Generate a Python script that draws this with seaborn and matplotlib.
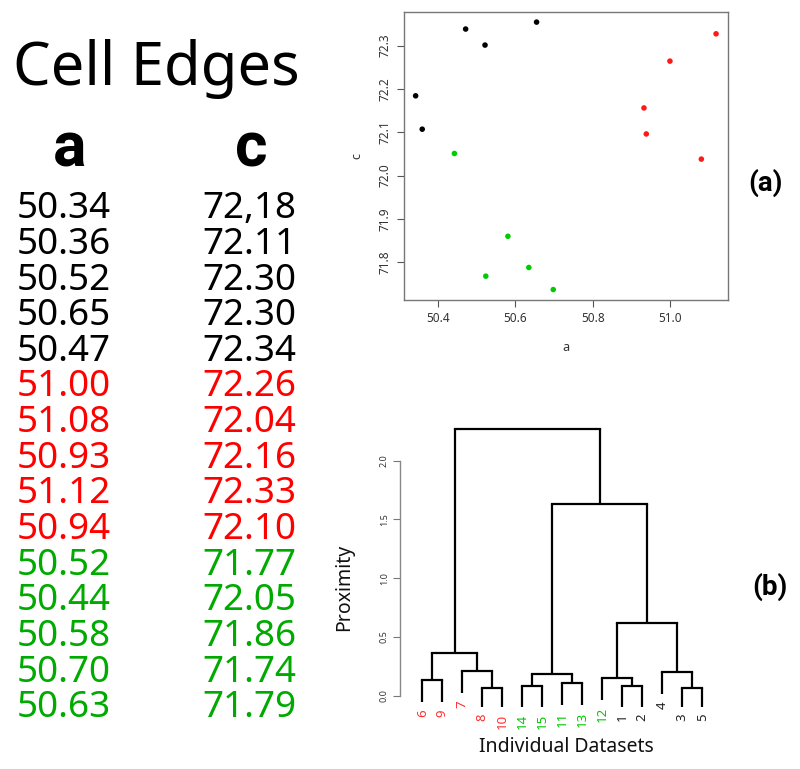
import matplotlib
matplotlib.use("Agg")
import matplotlib.pyplot as plt
import seaborn as sns
import pandas as pd

# ---------------- data ----------------
table_a = ["50.34", "50.36", "50.52", "50.65", "50.47",
           "51.00", "51.08", "50.93", "51.12", "50.94",
           "50.52", "50.44", "50.58", "50.70", "50.63"]
table_c = ["72,18", "72.11", "72.30", "72.30", "72.34",
           "72.26", "72.04", "72.16", "72.33", "72.10",
           "71.77", "72.05", "71.86", "71.74", "71.79"]
table_group = ["k"] * 5 + ["r"] * 5 + ["g"] * 5

scatter_a = [50.343, 50.360, 50.472, 50.522, 50.655,
             50.999, 50.932, 50.938, 51.080, 51.118,
             50.443, 50.581, 50.524, 50.635, 50.698]
scatter_c = [72.184, 72.107, 72.338, 72.301, 72.354,
             72.264, 72.156, 72.096, 72.038, 72.327,
             72.051, 71.860, 71.768, 71.788, 71.737]
scatter_group = ["k"] * 5 + ["r"] * 5 + ["g"] * 5

x_ticks = [50.4, 50.6, 50.8, 51.0]
y_ticks = [71.8, 71.9, 72.0, 72.1, 72.2, 72.3]

# dendrogram: leaf order and merges (left, right, height)
leaf_order = ["6", "9", "7", "8", "10", "14", "15", "11", "13", "12",
              "1", "2", "4", "3", "5"]
leaf_group = ["r", "r", "r", "r", "r", "g", "g", "g", "g", "g",
              "k", "k", "k", "k", "k"]
leaf_bottom = [-0.056, -0.056, 0.020, -0.094, -0.094, -0.094, -0.094,
               -0.079, -0.079, -0.037, -0.094, -0.094, 0.012, -0.094, -0.094]
merges = [
    ("6", "9", 0.133, "A"),
    ("8", "10", 0.062, "B"),
    ("7", "B", 0.207, "C"),
    ("A", "C", 0.363, "D"),
    ("14", "15", 0.082, "E"),
    ("11", "13", 0.108, "F"),
    ("E", "F", 0.182, "G"),
    ("1", "2", 0.082, "H"),
    ("12", "H", 0.153, "I"),
    ("3", "5", 0.065, "J"),
    ("4", "J", 0.199, "K"),
    ("I", "K", 0.620, "L"),
    ("G", "L", 1.630, "M"),
    ("D", "M", 2.270, "N"),
]
dendro_ticks = [0.0, 0.5, 1.0, 1.5, 2.0]

# ---------------- styling ----------------
sns.set_theme(style="white")
plt.rcParams["font.family"] = ["Noto Sans", "DejaVu Sans"]
plt.rcParams["text.color"] = "black"
BOLD = ["Roboto", "DejaVu Sans"]

table_colors = {"k": "#000000", "r": "#FF0000", "g": "#00AA00"}
point_colors = {"k": "#000000", "r": "#FF1A1A", "g": "#00CC00"}
label_colors = {"k": "#222222", "r": "#FF3030", "g": "#00C800"}

W, H = 800, 769
fig = plt.figure(figsize=(W / 100, H / 100), dpi=100)


def fx(x):
    return x / W


def fy(y):
    return 1 - y / H


# ---------------- left table ----------------
fig.text(fx(13), fy(85), "Cell Edges", fontsize=43, color="black",
         ha="left", va="baseline")
fig.text(fx(69.5), fy(166.7), "a", fontsize=45, fontweight="bold",
         family=BOLD, color="black", ha="center", va="baseline")
fig.text(fx(251.5), fy(166.7), "c", fontsize=45, fontweight="bold",
         family=BOLD, color="black", ha="center", va="baseline")
row0, step = 218.3, 35.64
for i, (av, cv, g) in enumerate(zip(table_a, table_c, table_group)):
    yb = row0 + step * i
    fig.text(fx(17), fy(yb), av, fontsize=26.5, color=table_colors[g],
             ha="left", va="baseline")
    fig.text(fx(202), fy(yb), cv, fontsize=26.5, color=table_colors[g],
             ha="left", va="baseline")

# ---------------- scatter (a) ----------------
ax1 = fig.add_axes([fx(404), fy(300), (727.7 - 404) / W, (300 - 11.7) / H])
df = pd.DataFrame({"a": scatter_a, "c": scatter_c, "grp": scatter_group})
sns.scatterplot(data=df, x="a", y="c", hue="grp", palette=point_colors,
                s=16, edgecolor="none", legend=False, ax=ax1)
ax1.set_xlim(50.313, 51.148)
ax1.set_ylim(71.713, 72.378)
ax1.set_xticks(x_ticks)
ax1.set_xticklabels([f"{t:.1f}" for t in x_ticks])
ax1.set_yticks(y_ticks)
ax1.set_yticklabels([f"{t:.1f}" for t in y_ticks], rotation=90, va="center")
ax1.tick_params(axis="both", direction="out", length=5, width=0.8,
                color="#555555", labelsize=8.5, labelcolor="#333333", pad=4,
                bottom=True, left=True)
for sp in ax1.spines.values():
    sp.set_color("#777777")
    sp.set_linewidth(1.0)
ax1.set_xlabel("a", fontsize=9, color="#333333", labelpad=11)
ax1.set_ylabel("c", fontsize=9, color="#333333", labelpad=11)

# ---------------- dendrogram (b) ----------------
ax2 = fig.add_axes([fx(400), fy(715), (720 - 400) / W, (715 - 420) / H])
pos = {name: float(i) for i, name in enumerate(leaf_order)}
top = {}
bottom_of = dict(zip(leaf_order, leaf_bottom))
for left, right, h, name in merges:
    for child in (left, right):
        ybot = top.get(child, bottom_of.get(child))
        ax2.plot([pos[child], pos[child]], [ybot, h], color="black",
                 lw=1.6, solid_capstyle="butt", clip_on=False)
    ax2.plot([pos[left], pos[right]], [h, h], color="black", lw=1.6,
             solid_capstyle="projecting", clip_on=False)
    pos[name] = (pos[left] + pos[right]) / 2
    top[name] = h
for i, (lab, g) in enumerate(zip(leaf_order, leaf_group)):
    ax2.annotate(lab, (i, leaf_bottom[i]), xytext=(0, -5),
                 textcoords="offset points", rotation=90, ha="center",
                 va="top", fontsize=9.5, color=label_colors[g],
                 annotation_clip=False)
ax2.set_xlim(-1.115, 14.885)
ax2.set_ylim(-0.164, 2.346)
ax2.set_xticks([])
ax2.set_yticks(dendro_ticks)
ax2.set_yticklabels([f"{t:.1f}" for t in dendro_ticks], rotation=90,
                    va="center")
ax2.tick_params(axis="y", direction="out", length=5, width=0.8,
                color="#777777", labelsize=6.5, labelcolor="#333333", pad=3,
                left=True)
for k in ("top", "right", "bottom"):
    ax2.spines[k].set_visible(False)
ax2.spines["left"].set_bounds(0, 2)
ax2.spines["left"].set_color("#888888")
ax2.spines["left"].set_linewidth(1.0)
ax2.patch.set_alpha(0)

fig.text(fx(566), fy(747), "Individual Datasets", fontsize=14,
         ha="center", va="center", color="#111111")
fig.text(fx(344), fy(587), "Proximity", fontsize=14, rotation=90,
         ha="center", va="center", color="#111111")

# panel labels
fig.text(fx(765), fy(183), "(a)", fontsize=20, fontweight="bold",
         family=BOLD, color="black", ha="center", va="center")
fig.text(fx(770), fy(587), "(b)", fontsize=20, fontweight="bold",
         family=BOLD, color="black", ha="center", va="center")

fig.savefig("out.png", dpi=100)
